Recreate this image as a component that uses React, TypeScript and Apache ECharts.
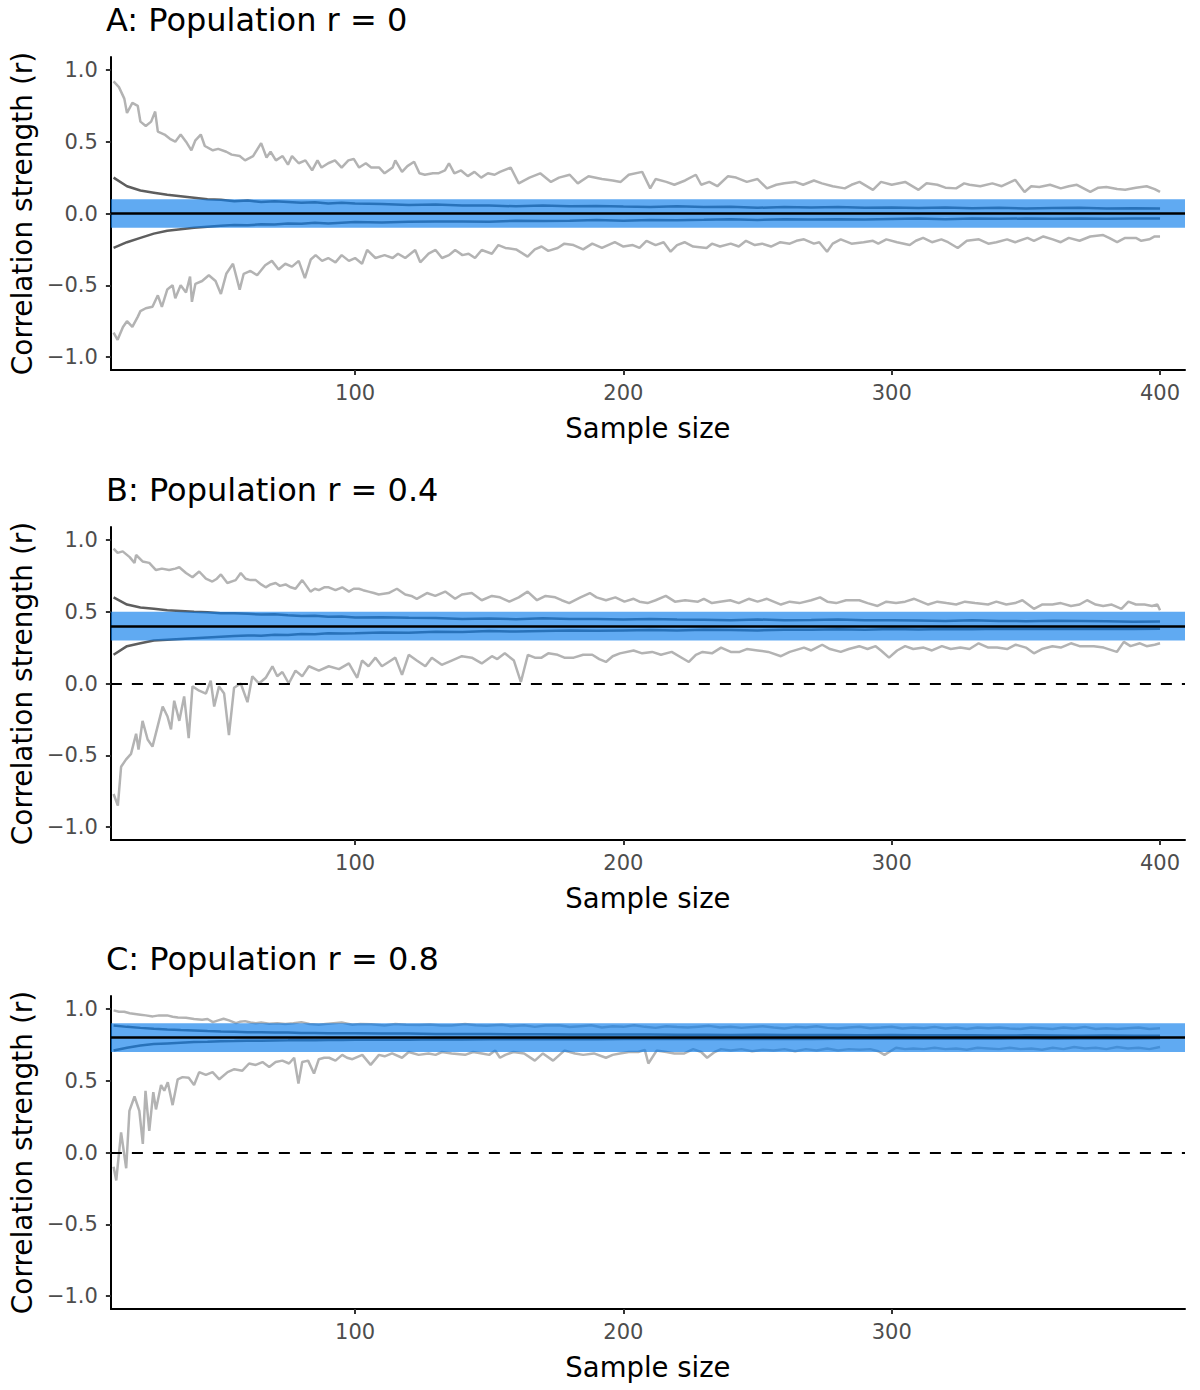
import React, { useEffect, useRef } from "react";
import * as echarts from "echarts";

// ---------- data ----------
const TITLES = ["A: Population r = 0", "B: Population r = 0.4", "C: Population r = 0.8"];
const POP_R = [0, 0.4, 0.8];
const X_TICKS = [[100, 200, 300, 400], [100, 200, 300, 400], [100, 200, 300]];
const Y_TICKS = [-1, -0.5, 0, 0.5, 1];
const X_LABEL = "Sample size";
const Y_LABEL = "Correlation strength (r)";

type P = [number, number];

// Panel A (population r = 0)
const A_max: P[] = [[10,.92],[12,.88],[14,.80],[15,.70],[17,.77],[19,.75],[20,.64],[22,.61],[24,.64],[25.5,.71],[26.5,.57],[29,.55],[31,.52],[33,.50],[35,.55],[37,.50],[39,.44],[40.5,.51],[42.5,.55],[44,.47],[47,.44],[49,.45],[52,.43],[54,.41],[57,.40],[59,.37],[62,.40],[65,.49],[67,.39],[68.5,.43],[70.5,.37],[73,.40],[75,.34],[76.5,.40],[79,.35],[81.5,.37],[84,.30],[86,.37],[87.5,.32],[90,.35],[92.5,.37],[95,.32],[97.5,.37],[99.5,.38],[101.5,.32],[104,.35],[106,.32],[109,.32],[111,.28],[114,.32],[115,.37],[117.5,.29],[119.5,.33],[122,.36],[124,.28],[126,.27],[129,.28],[131,.28],[133.5,.30],[135,.35],[137,.28],[139.5,.30],[142,.26],[144.5,.29],[147,.25],[149.5,.28],[152,.27],[154,.29],[158,.32],[161,.21],[165,.25],[169,.28],[173,.22],[176,.25],[180,.27],[183,.21],[187,.26],[192,.24],[196,.23],[199,.22],[202,.27],[207,.29],[210,.175],[212,.24],[216,.22],[219,.20],[223,.23],[227,.27],[229,.20],[232,.22],[235,.19],[239,.26],[242,.25],[246,.22],[250,.24],[253.5,.175],[257,.20],[260,.21],[264,.22],[267,.20],[271,.23],[274,.21],[278,.19],[282.5,.175],[285,.20],[288,.22],[293,.165],[296,.22],[300,.20],[305,.22],[310,.165],[313,.21],[317,.20],[320,.18],[324,.175],[327,.21],[329,.20],[333,.19],[337.5,.21],[341,.19],[346,.235],[349.5,.15],[352,.19],[355,.185],[359,.20],[363,.175],[366,.19],[369,.20],[374,.15],[377,.18],[380,.185],[384,.17],[387,.165],[391,.18],[395,.19],[398,.17],[400,.15]];
const A_min: P[] = [[10,-.83],[11.5,-.88],[13.5,-.79],[15,-.75],[17,-.79],[19,-.72],[20,-.68],[22,-.66],[24.5,-.65],[26.5,-.57],[28,-.65],[30,-.53],[32,-.50],[33,-.59],[35,-.50],[37,-.55],[38.5,-.44],[39.2,-.615],[40.5,-.49],[43,-.47],[45.5,-.43],[48,-.47],[50,-.56],[52,-.42],[54.5,-.35],[57,-.53],[58.5,-.42],[61,-.40],[63.5,-.43],[66.5,-.36],[69,-.33],[71.5,-.39],[74,-.35],[76.5,-.37],[79,-.33],[81.3,-.45],[83.5,-.32],[85.3,-.29],[87.7,-.33],[90,-.31],[92.7,-.34],[95,-.29],[97.7,-.33],[100,-.31],[102.6,-.35],[104.5,-.254],[107.6,-.31],[111,-.29],[114,-.31],[116,-.28],[118.7,-.31],[122.4,-.254],[124.3,-.34],[127.4,-.28],[130,-.254],[132.4,-.31],[135,-.29],[137.3,-.254],[140,-.29],[142.3,-.28],[144.7,-.31],[147.2,-.254],[151,-.28],[153.4,-.22],[156,-.24],[160,-.25],[164.3,-.30],[167,-.25],[169.5,-.23],[172,-.26],[175.5,-.24],[178,-.21],[181.4,-.22],[185,-.25],[188.4,-.21],[192,-.24],[196.8,-.20],[200,-.23],[203.5,-.22],[206,-.24],[208.6,-.19],[212,-.22],[215,-.20],[217.6,-.266],[220,-.22],[222.8,-.20],[226,-.23],[231,-.24],[233,-.21],[236,-.23],[240,-.21],[243,-.23],[245.7,-.19],[249,-.22],[251.7,-.21],[255,-.23],[258.5,-.20],[262,-.21],[264.5,-.19],[267.3,-.18],[271,-.21],[273,-.20],[275.9,-.266],[278,-.21],[281,-.18],[285,-.21],[289.5,-.20],[293,-.19],[295,-.21],[298,-.18],[302,-.20],[306.7,-.22],[309,-.19],[311.7,-.17],[315,-.20],[318.5,-.18],[321,-.20],[324.6,-.24],[328,-.19],[332.5,-.18],[336,-.21],[339,-.20],[343,-.18],[346,-.20],[350.6,-.17],[353,-.19],[356.5,-.16],[360,-.18],[363,-.20],[366,-.17],[370,-.19],[374,-.16],[378.8,-.15],[381,-.17],[384,-.20],[387,-.17],[391,-.17],[393,-.19],[396,-.18],[398,-.16],[400,-.16]];
const A_q3: P[] = [[10,.25],[15,.19],[20,.16],[25,.145],[30,.13],[35,.12],[40,.11],[45,.10],[50,.095],[55,.085],[60,.09],[65,.08],[70,.085],[75,.08],[80,.075],[85,.078],[90,.07],[95,.075],[100,.07],[110,.066],[120,.06],[130,.062],[140,.056],[150,.055],[160,.05],[170,.056],[180,.05],[190,.052],[200,.048],[210,.045],[220,.05],[230,.045],[240,.047],[250,.04],[260,.045],[270,.041],[280,.045],[290,.04],[300,.042],[310,.038],[320,.041],[330,.036],[340,.04],[350,.035],[360,.038],[370,.04],[380,.035],[390,.037],[400,.035]];
const A_q1: P[] = [[10,-.24],[15,-.20],[20,-.17],[25,-.14],[30,-.12],[35,-.11],[40,-.10],[45,-.092],[50,-.085],[55,-.08],[60,-.082],[65,-.075],[70,-.077],[75,-.07],[80,-.072],[85,-.065],[90,-.07],[95,-.065],[100,-.06],[110,-.062],[120,-.058],[130,-.056],[140,-.055],[150,-.057],[160,-.05],[170,-.052],[180,-.05],[190,-.045],[200,-.05],[210,-.045],[220,-.047],[230,-.044],[240,-.04],[250,-.045],[260,-.04],[270,-.042],[280,-.04],[290,-.041],[300,-.038],[310,-.035],[320,-.04],[330,-.035],[340,-.037],[350,-.035],[360,-.036],[370,-.034],[380,-.036],[390,-.034],[400,-.035]];

// Panel B (population r = 0.4)
const B_max: P[] = [[10,.94],[11.5,.91],[13.4,.92],[16,.88],[17.8,.84],[18.4,.895],[20.8,.85],[23.3,.84],[25.8,.79],[28,.80],[30.7,.79],[33,.80],[34.5,.81],[37,.77],[39.4,.74],[41.9,.78],[44.4,.73],[46.8,.71],[48.5,.73],[50,.76],[52.4,.70],[55.5,.72],[57.4,.77],[59.2,.73],[61,.72],[63,.72],[65,.69],[66.7,.67],[68.5,.69],[70.4,.70],[72,.68],[74.1,.69],[76,.67],[77.8,.66],[80.3,.72],[83.4,.64],[85,.66],[86.5,.65],[88.5,.67],[90.2,.67],[92.7,.65],[95.2,.67],[97.7,.64],[99.5,.66],[101.4,.66],[103,.65],[105,.64],[107,.63],[108.8,.62],[112.5,.63],[115.6,.66],[118.7,.62],[121,.61],[123,.59],[126.8,.63],[129.9,.61],[133.6,.64],[137.3,.59],[139.8,.62],[143.5,.63],[147.2,.58],[151,.61],[154,.60],[157.5,.57],[161,.60],[164.3,.64],[167.8,.58],[171,.61],[174.6,.60],[177,.58],[179.8,.56],[184,.60],[187.5,.63],[190,.60],[193.5,.58],[197,.60],[200.4,.57],[203.8,.59],[206,.57],[209,.56],[212,.58],[215.8,.61],[219.2,.57],[223,.58],[227.8,.57],[230,.59],[233,.56],[236,.57],[239.8,.58],[243,.56],[246.7,.59],[250,.57],[253.5,.59],[258.7,.55],[262,.57],[265.6,.56],[270,.58],[273.3,.60],[276,.57],[279.3,.56],[283,.58],[287.9,.58],[291,.56],[294.7,.54],[298,.57],[301.6,.56],[305,.57],[308.4,.59],[313.6,.55],[317,.57],[320.4,.56],[324,.55],[327.3,.57],[331,.56],[335.9,.55],[339,.57],[342.7,.55],[346,.56],[348.7,.58],[353,.52],[356,.55],[359.9,.55],[363,.56],[366.8,.54],[370,.55],[372.8,.58],[376,.55],[378.8,.54],[382,.55],[385.6,.52],[388.2,.57],[391,.55],[394.2,.55],[397,.54],[399,.55],[400,.51]];
const B_min: P[] = [[10,-.77],[11.6,-.85],[12.8,-.58],[14.6,-.53],[16.5,-.49],[18.4,-.35],[19.3,-.46],[20.8,-.26],[22.7,-.39],[24.5,-.44],[26.4,-.30],[28.3,-.16],[30.1,-.23],[31.4,-.32],[32.6,-.12],[34.5,-.26],[36.3,-.09],[38,-.38],[39.4,-.02],[41.9,-.05],[44.4,-.07],[46.2,.02],[47.5,-.16],[49.3,-.02],[51.2,-.07],[53,-.36],[54.9,-.03],[57.4,.00],[59.9,-.13],[61.7,.05],[64.2,.00],[66.7,.04],[69.2,.12],[71,.05],[72.9,.08],[75.3,.00],[77.8,.09],[80.3,.05],[82.8,.12],[86.5,.09],[90.2,.12],[94,.10],[97.7,.14],[100.8,.04],[102.6,.16],[105,.12],[107.6,.18],[110,.12],[112.5,.15],[115,.18],[117.5,.06],[120,.20],[123,.16],[126.2,.12],[128.6,.18],[132.3,.13],[136,.16],[139.8,.19],[143.5,.18],[147.2,.14],[151,.19],[153,.17],[155.8,.21],[159.2,.16],[161.8,.01],[164.4,.20],[167,.18],[169.5,.18],[172,.21],[175.5,.20],[178,.18],[181.5,.18],[185,.20],[188.4,.20],[191,.17],[193.5,.15],[196,.19],[198.7,.21],[203.8,.23],[207,.21],[210.7,.22],[214,.20],[218,.22],[224.4,.15],[227,.20],[229.5,.22],[233,.21],[236.4,.25],[240,.22],[243.3,.22],[246,.24],[250,.23],[254,.22],[258.7,.19],[262,.22],[267.3,.25],[270,.23],[274.1,.27],[277,.24],[281,.22],[284,.24],[287.9,.26],[291,.24],[294,.26],[296,.23],[299,.18],[302,.23],[305,.26],[308,.24],[311.9,.25],[315,.23],[318.7,.26],[322,.24],[325.6,.25],[329,.24],[332.4,.28],[336,.25],[339.3,.25],[343,.24],[346.2,.27],[350,.25],[353,.21],[356,.24],[359.9,.26],[363,.25],[366.8,.28],[370,.26],[375.3,.26],[379,.25],[383.9,.22],[386.5,.29],[389,.26],[392.5,.28],[395,.26],[398,.27],[400,.28]];
const B_q3: P[] = [[10,.60],[15,.55],[20,.53],[25,.52],[30,.51],[35,.505],[40,.50],[45,.497],[50,.49],[55,.49],[60,.485],[65,.48],[70,.482],[75,.475],[80,.47],[85,.472],[90,.465],[95,.466],[100,.46],[110,.462],[120,.458],[130,.456],[140,.45],[150,.452],[160,.448],[170,.455],[180,.45],[190,.449],[200,.445],[210,.45],[220,.446],[230,.444],[240,.44],[250,.446],[260,.44],[270,.442],[280,.445],[290,.44],[300,.441],[310,.438],[320,.435],[330,.44],[340,.436],[350,.434],[360,.437],[370,.435],[380,.433],[390,.43],[400,.432]];
const B_q1: P[] = [[10,.20],[15,.26],[20,.28],[25,.30],[30,.305],[35,.31],[40,.315],[45,.32],[50,.325],[55,.33],[60,.335],[65,.333],[70,.34],[75,.338],[80,.345],[85,.343],[90,.35],[95,.348],[100,.35],[110,.355],[120,.353],[130,.36],[140,.358],[150,.365],[160,.362],[170,.366],[180,.37],[190,.368],[200,.37],[210,.372],[220,.369],[230,.375],[240,.373],[250,.37],[260,.375],[270,.374],[280,.377],[290,.374],[300,.38],[310,.376],[320,.38],[330,.378],[340,.381],[350,.379],[360,.382],[370,.38],[380,.381],[390,.379],[400,.382]];

// Panel C (population r = 0.8)
const C_max: P[] = [[10,.99],[12,.98],[14,.98],[16,.97],[18,.965],[20,.96],[22,.955],[24.6,.948],[27,.955],[30,.955],[32,.945],[34,.94],[37,.939],[40,.93],[43,.925],[45,.93],[47,.908],[49,.92],[51,.932],[53,.92],[55.6,.901],[57,.91],[59,.915],[61,.905],[63,.901],[65,.905],[68,.897],[71,.90],[74,.895],[77,.90],[80,.908],[83,.895],[86.5,.89],[89,.895],[92,.901],[95,.905],[99,.89],[102,.895],[106,.893],[111,.885],[115,.895],[119,.89],[124,.888],[128,.892],[132,.885],[136,.885],[141,.895],[145,.887],[149,.882],[154.7,.89],[158,.88],[163,.887],[167,.875],[171,.884],[176,.886],[180,.874],[184,.88],[188,.886],[192,.87],[196,.88],[200,.875],[204,.887],[208,.875],[212,.868],[216,.88],[220,.874],[224,.87],[228,.876],[232,.882],[236,.87],[240,.876],[244,.868],[248,.874],[252,.88],[256,.87],[260,.864],[264,.875],[268,.87],[272,.88],[276,.868],[280,.864],[284,.871],[288,.876],[292,.865],[296,.87],[300,.876],[304,.864],[308,.87],[312,.865],[316,.875],[320,.864],[324,.87],[328,.86],[332,.87],[336,.865],[340,.871],[344,.864],[348,.86],[352,.87],[356,.865],[360,.86],[364,.87],[368,.864],[372,.875],[376,.86],[380,.866],[384,.86],[388,.865],[392,.87],[396,.86],[400,.865]];
const C_min: P[] = [[10,-.10],[11,-.195],[12.8,.14],[14.7,-.11],[15.9,.29],[17.8,.39],[19.6,.29],[20.9,.06],[21.9,.43],[23.3,.15],[24.8,.42],[25.8,.30],[27.7,.47],[28.9,.43],[30.2,.49],[32,.33],[33.9,.51],[35.7,.525],[38,.52],[40,.47],[41.9,.56],[44.4,.54],[46.9,.56],[49.4,.51],[52.5,.56],[55,.58],[58,.57],[60.5,.62],[63,.61],[65.5,.63],[68,.595],[70.4,.63],[72.9,.64],[75.4,.62],[77.3,.66],[78.9,.48],[80.3,.63],[82.5,.64],[84.7,.55],[86.5,.65],[88.5,.66],[90.3,.66],[92.7,.64],[95.2,.68],[97,.66],[99,.65],[102.7,.68],[105.8,.61],[108.9,.68],[111,.67],[113.8,.69],[117.5,.66],[120,.70],[123.7,.68],[127.4,.69],[130,.68],[132.4,.70],[136,.69],[141,.68],[144,.70],[147.3,.69],[150,.68],[152.2,.71],[154,.66],[156,.68],[159,.70],[163,.69],[167,.64],[170,.69],[173.8,.64],[178,.71],[182,.69],[185,.68],[189,.69],[193.5,.66],[196,.68],[198.7,.69],[202,.70],[205.5,.70],[208,.715],[209.3,.62],[212.4,.71],[216,.70],[219,.69],[222.7,.69],[226,.72],[229,.70],[231.2,.66],[234,.70],[236.4,.72],[240,.71],[244,.72],[248,.705],[252,.715],[256,.71],[260,.72],[264,.705],[268,.72],[272,.71],[276,.725],[280,.71],[284,.72],[288,.715],[292,.72],[295,.705],[297.3,.68],[301.6,.73],[305,.72],[308,.725],[312,.72],[316,.73],[320,.72],[324,.725],[328,.715],[332,.73],[336,.725],[340,.72],[344,.73],[348,.72],[352,.725],[356,.715],[360,.73],[364,.72],[368,.735],[372,.725],[376,.73],[380,.72],[384,.735],[388,.725],[392,.73],[396,.72],[400,.735]];
const C_q3: P[] = [[10,.885],[15,.875],[20,.868],[25,.862],[30,.857],[35,.853],[40,.85],[45,.846],[50,.843],[55,.841],[60,.838],[65,.838],[70,.835],[75,.835],[80,.833],[85,.832],[90,.831],[95,.831],[100,.83],[110,.828],[120,.828],[130,.826],[140,.825],[150,.825],[160,.823],[170,.824],[180,.822],[190,.822],[200,.821],[210,.821],[220,.82],[230,.82],[240,.819],[250,.82],[260,.818],[270,.819],[280,.818],[290,.817],[300,.818],[310,.816],[320,.817],[330,.816],[340,.815],[350,.816],[360,.815],[370,.814],[380,.815],[390,.814],[400,.813]];
const C_q1: P[] = [[10,.71],[15,.73],[20,.745],[25,.755],[30,.76],[35,.765],[40,.77],[45,.772],[50,.775],[55,.776],[60,.778],[65,.779],[70,.78],[75,.781],[80,.783],[85,.782],[90,.784],[95,.784],[100,.785],[110,.786],[120,.786],[130,.788],[140,.787],[150,.789],[160,.788],[170,.789],[180,.79],[190,.789],[200,.79],[210,.79],[220,.791],[230,.79],[240,.791],[250,.791],[260,.792],[270,.791],[280,.792],[290,.792],[300,.793],[310,.792],[320,.793],[330,.793],[340,.793],[350,.794],[360,.793],[370,.794],[380,.794],[390,.794],[400,.795]];

const PANELS = [
  { max: A_max, min: A_min, q3: A_q3, q1: A_q1 },
  { max: B_max, min: B_min, q3: B_q3, q1: B_q1 },
  { max: C_max, min: C_min, q3: C_q3, q1: C_q1 },
];

// ---------- layout / style ----------
const FONT = "DejaVu Sans";
const GRID_LEFT = 108;
const GRID_WIDTH = 1077;
const GRID_HEIGHT = 313;
const GRID_TOPS = [57, 527, 996];
const TITLE_TOPS = [4, 474, 943];
const X_MIN = 9;
const X_MAX = 409.3;
const Y_MIN = -1.09;
const Y_MAX = 1.09;
const LIGHT = "#b3b3b3";
const DARK = "#5e5e5e";
const BAND = "rgba(10,125,235,0.65)";

function fmtY(v: number) {
  const s = Math.abs(v).toFixed(1);
  return v < 0 ? "\u2212" + s : s;
}

export default function App() {
  const ref = useRef<HTMLDivElement>(null);
  useEffect(() => {
    if (!ref.current) return;
    const chart = echarts.init(ref.current, undefined, { renderer: "svg" });

    const grid: any[] = [];
    const xAxis: any[] = [];
    const yAxis: any[] = [];
    const series: any[] = [];
    const title: any[] = [];

    PANELS.forEach((p, i) => {
      const r = POP_R[i];
      title.push({
        text: TITLES[i],
        left: GRID_LEFT - 2,
        top: TITLE_TOPS[i],
        padding: 0,
        textStyle: { fontFamily: FONT, fontSize: 32, fontWeight: "normal", color: "#000" },
      });
      grid.push({ left: GRID_LEFT, top: GRID_TOPS[i], width: GRID_WIDTH, height: GRID_HEIGHT, containLabel: false });
      xAxis.push({
        gridIndex: i,
        type: "value",
        min: X_MIN,
        max: X_MAX,
        name: X_LABEL,
        nameLocation: "middle",
        nameGap: 44,
        nameTextStyle: { fontFamily: FONT, fontSize: 27.5, color: "#000" },
        axisLine: { show: true, onZero: false, lineStyle: { color: "#000", width: 2 } },
        axisTick: { show: true, length: 5, customValues: X_TICKS[i], lineStyle: { color: "#333", width: 2 } },
        axisLabel: { customValues: X_TICKS[i], color: "#4d4d4d", fontSize: 21, fontFamily: FONT, margin: 12 },
        splitLine: { show: false },
      });
      yAxis.push({
        gridIndex: i,
        type: "value",
        min: Y_MIN,
        max: Y_MAX,
        name: Y_LABEL,
        nameLocation: "middle",
        nameRotate: 90,
        nameGap: 72,
        nameTextStyle: { fontFamily: FONT, fontSize: 28, color: "#000" },
        axisLine: { show: true, onZero: false, lineStyle: { color: "#000", width: 2 } },
        axisTick: { show: true, length: 5, customValues: Y_TICKS, lineStyle: { color: "#333", width: 2 } },
        axisLabel: {
          customValues: Y_TICKS,
          color: "#4d4d4d",
          fontSize: 21,
          fontFamily: FONT,
          margin: 13,
          formatter: (v: number) => fmtY(v),
        },
        splitLine: { show: false },
      });

      const line = (data: P[], color: string) => ({
        type: "line",
        xAxisIndex: i,
        yAxisIndex: i,
        data,
        showSymbol: false,
        symbol: "none",
        silent: true,
        z: 2,
        lineStyle: { color, width: 2.5 },
      });
      series.push(line(p.max, LIGHT), line(p.min, LIGHT), line(p.q3, DARK), line(p.q1, DARK));

      // band of +/- 0.1 around population r (drawn over the grey lines)
      series.push({
        type: "line",
        xAxisIndex: i,
        yAxisIndex: i,
        data: [],
        z: 5,
        silent: true,
        markArea: {
          silent: true,
          z: 5,
          itemStyle: { color: BAND },
          data: [[{ yAxis: r - 0.1 }, { yAxis: r + 0.1 }]],
        },
      });
      // population r reference line (+ dashed zero line)
      const ml: any[] = [{ yAxis: r, lineStyle: { color: "#000", width: 2.5, type: "solid" } }];
      if (r !== 0) ml.push({ yAxis: 0, lineStyle: { color: "#000", width: 2.2, type: [11, 10] } });
      series.push({
        type: "line",
        xAxisIndex: i,
        yAxisIndex: i,
        data: [],
        z: 6,
        silent: true,
        markLine: {
          silent: true,
          z: 6,
          symbol: ["none", "none"],
          label: { show: false },
          data: ml,
        },
      });
    });

    chart.setOption({
      animation: false,
      backgroundColor: "#fff",
      textStyle: { fontFamily: FONT },
      title,
      grid,
      xAxis,
      yAxis,
      series,
    });
    return () => chart.dispose();
  }, []);

  return (
    <div
      ref={ref}
      style={{ position: "absolute", left: 0, top: 0, width: 1200, height: 1390, background: "#fff" }}
    />
  );
}
